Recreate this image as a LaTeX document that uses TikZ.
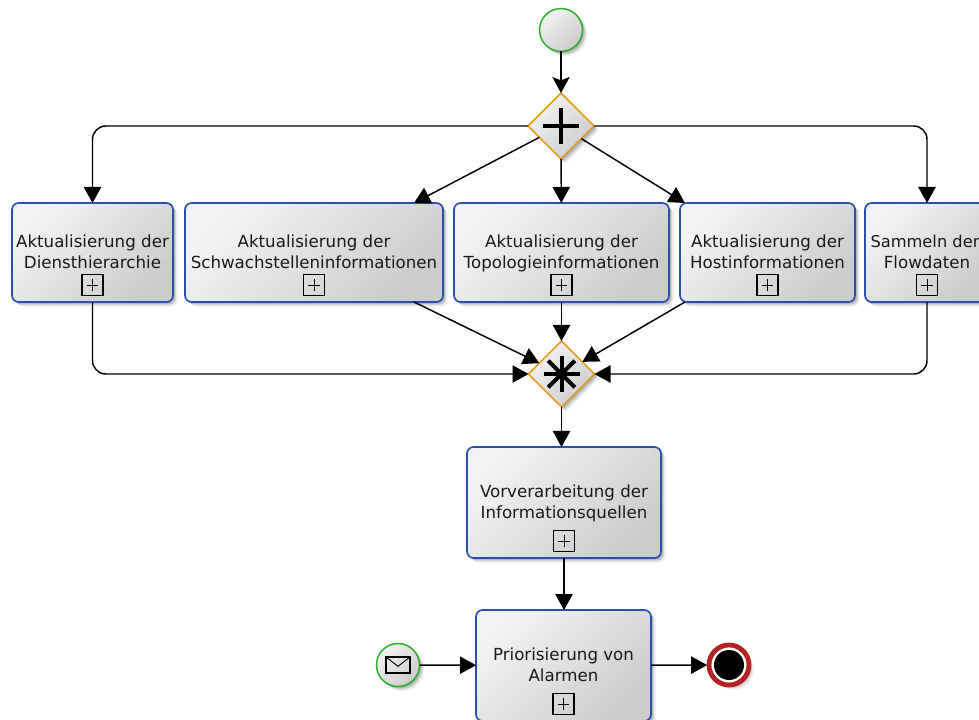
\documentclass[tikz,border=0pt]{standalone}
\usepackage{fontspec}
\setmainfont{DejaVu Sans}
\usetikzlibrary{arrows.meta,shapes.geometric,shadows}
\definecolor{taskblue}{HTML}{2A50AE}
\definecolor{startgreen}{HTML}{2EB22E}
\definecolor{gateorange}{HTML}{E89A1C}
\definecolor{endred}{HTML}{B52222}
\definecolor{shadelight}{HTML}{F3F3F3}
\definecolor{shadedark}{HTML}{CCCCCC}
\newcommand{\topline}{\rule{0pt}{11.5pt}}
\newcommand{\botline}{\rule[-3pt]{0pt}{3pt}}
\tikzset{
  softshadow/.style={
    drop shadow={shadow xshift=.8pt,shadow yshift=-.8pt,opacity=.10,fill=black},
    drop shadow={shadow xshift=1.6pt,shadow yshift=-1.6pt,opacity=.12,fill=black},
    drop shadow={shadow xshift=2.4pt,shadow yshift=-2.4pt,opacity=.10,fill=black},
    drop shadow={shadow xshift=3.4pt,shadow yshift=-3.4pt,opacity=.07,fill=black}},
  bpmnfill/.style={shade,shading=axis,left color=shadelight,right color=shadedark,shading angle=45},
  task/.style 2 args={draw=taskblue,line width=1.25pt,rectangle,rounded corners=5pt,
    bpmnfill,softshadow,minimum width=#1*.75pt,minimum height=#2*.75pt,
    inner sep=0pt,outer sep=0pt,align=center,font=\fontsize{12.5}{15.3}\selectfont,text=black!90},
  eventnode/.style={circle,draw=startgreen,line width=1.15pt,bpmnfill,softshadow,
    minimum size=43*.75pt,inner sep=0pt,outer sep=0pt},
  gateway/.style={diamond,aspect=1,draw=gateorange,line width=1.15pt,bpmnfill,softshadow,
    minimum width=66*.75pt,minimum height=66*.75pt,inner sep=0pt,outer sep=0pt},
  submarker/.style={rectangle,draw=black,line width=1.05pt,fill=none,minimum size=21*.75pt,
    inner sep=0pt,path picture={
      \draw[line width=.7pt,black] ([xshift=-4.2pt]path picture bounding box.center) -- ([xshift=4.2pt]path picture bounding box.center);
      \draw[line width=.7pt,black] ([yshift=-4.2pt]path picture bounding box.center) -- ([yshift=4.2pt]path picture bounding box.center);}},
  envelope/.style={rectangle,draw=black,line width=.8pt,fill=none,minimum width=24*.75pt,minimum height=16*.75pt,
    inner sep=0pt,path picture={
      \draw[line width=.7pt,black] (path picture bounding box.north west) -- ([yshift=-1pt]path picture bounding box.center) -- (path picture bounding box.north east);}},
  flow/.style={draw=black,line width=1.1pt,-{Triangle[length=12pt,width=13pt]},rounded corners=10pt},
  startflow/.style={draw=black,line width=1.1pt,-{Stealth[length=12pt,width=13pt,inset=2.5pt]}},
  gateicon/.style={draw=black,line cap=butt},
}
\begin{document}
\begin{tikzpicture}[x=.75pt,y=-.75pt]
\useasboundingbox (0,0) rectangle (979,720);
\clip (0,0) rectangle (979,720);
\node[eventnode] (start) at (561,30) {};
\node[gateway] (gw1) at (561,126) {};
\node[gateway] (gw2) at (561.5,374) {};
\node[task={161}{99}] (t1) at (92.5,252.5) {\topline Aktualisierung der\\Diensthierarchie\botline};
\node[task={258}{99}] (t2) at (314,252.5) {\topline Aktualisierung der\\Schwachstelleninformationen\botline};
\node[task={215}{99}] (t3) at (561.5,252.5) {\topline Aktualisierung der\\Topologieinformationen\botline};
\node[task={175}{99}] (t4) at (767.5,252.5) {\topline Aktualisierung der\\Hostinformationen\botline};
\node[task={124}{99}] (t5) at (927,252.5) {\topline{\fontsize{12.2}{15.3}\selectfont Sammeln der\kern 3pt}\\Flowdaten\botline};
\node[task={194}{111}] (t6) at (564,502.5) {\topline Vorverarbeitung der\\Informationsquellen\botline};
\node[task={175}{111}] (t7) at (563.5,665.5) {\topline Priorisierung von\\Alarmen\botline};
\node[eventnode] (msg) at (398,665) {};
\node[envelope] (env) at (msg.center) {};
\node[circle,draw=endred,line width=3.6pt,fill=white,softshadow,minimum size=40*.75pt,inner sep=0pt,outer sep=1.4pt] (stop) at (729,665) {};
\node[circle,fill=black,minimum size=30*.75pt,inner sep=0pt] (stopdot) at (stop.center) {};
% sub-process markers
\node[submarker] (m1) at ([yshift=17*.75pt]t1.south) {};
\node[submarker] (m2) at ([yshift=17*.75pt]t2.south) {};
\node[submarker] (m3) at ([yshift=17*.75pt]t3.south) {};
\node[submarker] (m4) at ([yshift=17*.75pt]t4.south) {};
\node[submarker] (m5) at ([yshift=17*.75pt]t5.south) {};
\node[submarker] (m6) at ([yshift=17*.75pt]t6.south) {};
\node[submarker] (m7) at ([yshift=17*.75pt]t7.south) {};
% gateway icons
\draw[gateicon,line width=3.4pt] ([xshift=-13.5pt]gw1.center) -- ([xshift=13.5pt]gw1.center);
\draw[gateicon,line width=3.4pt] ([yshift=-13.5pt]gw1.center) -- ([yshift=13.5pt]gw1.center);
\draw[gateicon,line width=3pt] ([xshift=-13.5pt]gw2.center) -- ([xshift=13.5pt]gw2.center);
\draw[gateicon,line width=3pt] ([yshift=-13.5pt]gw2.center) -- ([yshift=13.5pt]gw2.center);
\draw[gateicon,line width=3pt] ([xshift=-10pt,yshift=-10pt]gw2.center) -- ([xshift=10pt,yshift=10pt]gw2.center);
\draw[gateicon,line width=3pt] ([xshift=-10pt,yshift=10pt]gw2.center) -- ([xshift=10pt,yshift=-10pt]gw2.center);
% free ends of the diagonal flows
\coordinate (t2in) at (414,203);
\coordinate (t4in) at (685,203);
\coordinate (t2out) at (414,302);
\coordinate (t4out) at (685,302);
% connectors
\draw[startflow] (start) -- (gw1);
\draw[flow] (gw1.west) -| (t1.north);
\draw[flow] (gw1.east) -| (t5.north);
\draw[flow] (gw1) -- (t2in);
\draw[flow] (gw1) -- (t3);
\draw[flow] (gw1) -- (t4in);
\draw[flow] (t1.south) |- (gw2.west);
\draw[flow] (t5.south) |- (gw2.east);
\draw[flow] (t2out) -- (gw2);
\draw[flow] (t3) -- (gw2);
\draw[flow] (t4out) -- (gw2);
\draw[flow] (gw2.south) -- (gw2.south |- t6.north);
\draw[flow] (t6.south) -- (t6.south |- t7.north);
\draw[flow] (msg) -- (t7);
\draw[flow] (t7) -- (stop);
\end{tikzpicture}
\end{document}
